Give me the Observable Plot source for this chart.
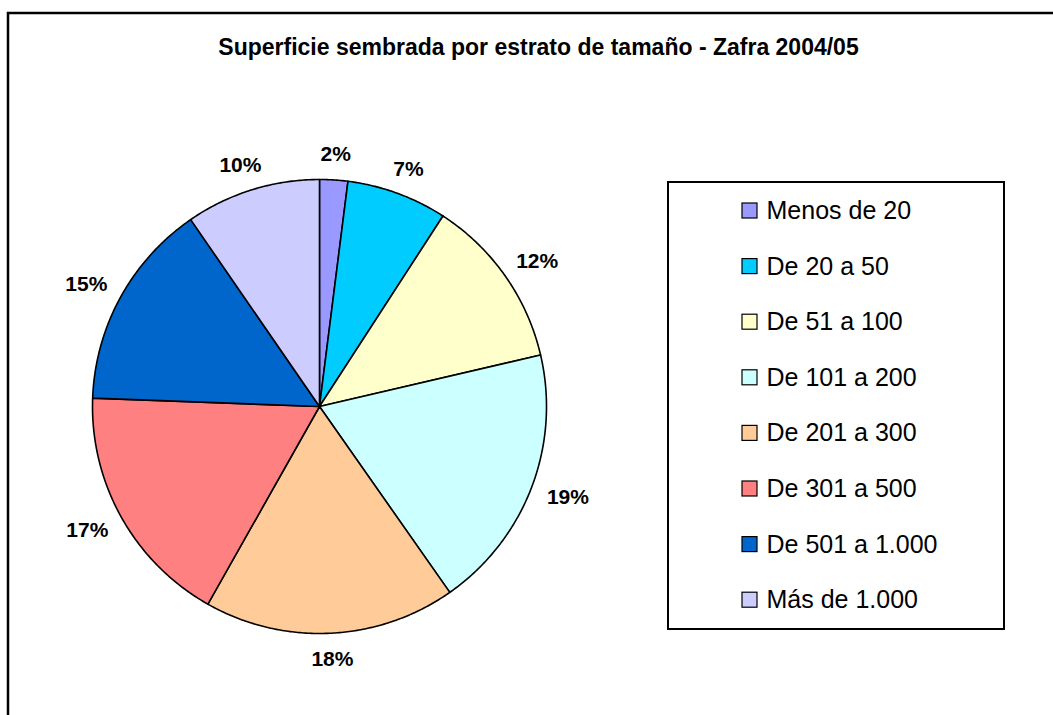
<!DOCTYPE html>
<html><head><meta charset="utf-8">
<script src="https://cdn.jsdelivr.net/npm/d3@7"></script>
<script src="https://cdn.jsdelivr.net/npm/@observablehq/plot@0.6"></script>
<style>body{margin:0;background:#fff;}</style>
</head><body><div id="chart"></div>
<script>
const title = "Superficie sembrada por estrato de tamaño - Zafra 2004/05";
const categories = ["Menos de 20", "De 20 a 50", "De 51 a 100", "De 101 a 200", "De 201 a 300", "De 301 a 500", "De 501 a 1.000", "Más de 1.000"];
const shares = [2.0, 7.15, 12.2, 18.9, 17.9, 17.4, 14.8, 9.6];
const labels = ["2%", "7%", "12%", "19%", "18%", "17%", "15%", "10%"];
const colors = ["#9999FF", "#00CCFF", "#FFFFCC", "#CCFFFF", "#FFCC99", "#FF8080", "#0066CC", "#CCCCFF"];

const W = 1053, H = 715, cx = 319, cy = 406, R = 227;
const arcs = d3.pie().sort(null).value(d => d)(shares);

const slicePts = [];
arcs.forEach((p, i) => {
  const cat = categories[i];
  slicePts.push({cat, x: 0, y: 0});
  const n = Math.max(2, Math.ceil((p.endAngle - p.startAngle) / (Math.PI / 360)));
  for (let k = 0; k <= n; k++) {
    const a = p.startAngle + (p.endAngle - p.startAngle) * k / n;
    slicePts.push({cat, x: R * Math.sin(a), y: -R * Math.cos(a)});
  }
});

const labelData = arcs.map((p, i) => {
  const m = (p.startAngle + p.endAngle) / 2;
  const ux = Math.sin(m), uy = -Math.cos(m);
  const hw = labels[i].length * 7, hh = 8;
  return {text: labels[i], x: (R + 18) * ux + hw * ux, y: (R + 18) * uy + hh * uy};
});

const lgX0 = 668 - cx, lgX1 = 1004 - cx, lgY0 = 182 - cy, lgY1 = 629 - cy;
const legendData = categories.map((c, i) => ({
  cat: c,
  x1: 742 - cx, x2: 757 - cx,
  y: 210.5 + 55.6 * i - cy
}));

const font = "Arial, 'Liberation Sans', sans-serif";

const chart = Plot.plot({
  width: W, height: H, margin: 0,
  style: {fontFamily: font, background: "white"},
  x: {domain: [-cx, W - cx], range: [0, W], axis: null},
  y: {domain: [-cy, H - cy], range: [0, H], axis: null},
  color: {domain: categories, range: colors},
  marks: [
    Plot.rect([{x1: 8 - cx, x2: W + 6 - cx, y1: 13 - cy, y2: H + 6 - cy}],
      {x1: "x1", x2: "x2", y1: "y1", y2: "y2", fill: "white", stroke: "black", strokeWidth: 2.5}),
    Plot.text([title], {x: 538 - cx, y: 47 - cy, text: d => d, fontSize: 23, fontWeight: "bold", fill: "black", fontFamily: font}),
    Plot.line(slicePts, {x: "x", y: "y", z: "cat", fill: "cat", stroke: "black", strokeWidth: 1.6, curve: "linear-closed"}),
    Plot.text(labelData, {x: "x", y: "y", text: "text", fontSize: 21, fontWeight: "bold", fill: "black", fontFamily: font}),
    Plot.rect([{x1: lgX0, x2: lgX1, y1: lgY0, y2: lgY1}],
      {x1: "x1", x2: "x2", y1: "y1", y2: "y2", fill: "white", stroke: "black", strokeWidth: 2}),
    Plot.rect(legendData, {x1: "x1", x2: "x2", y1: d => d.y - 7.5, y2: d => d.y + 7.5, fill: "cat", stroke: "black", strokeWidth: 1.2}),
    Plot.text(legendData, {x: 766 - cx, y: "y", text: "cat", textAnchor: "start", fontSize: 25, fill: "black", fontFamily: font})
  ]
});
document.getElementById("chart").appendChild(chart);
</script>
</body></html>
